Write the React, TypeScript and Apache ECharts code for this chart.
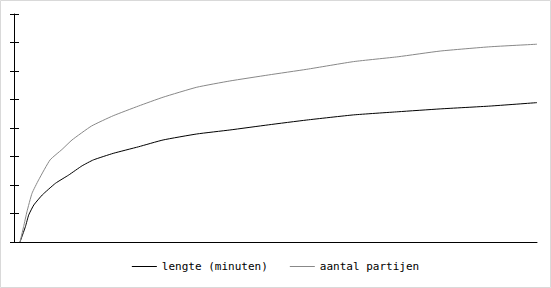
import React, { useEffect, useRef } from "react";
import * as echarts from "echarts";

const seriesNames = ["lengte (minuten)", "aantal partijen"];
const lengteX = [1, 1.9, 2.45, 3.3, 4.7, 6.9, 9.1, 11.3, 13.2, 16.5, 20.7, 24.8, 30.4, 35.9, 42.3, 48.7, 56.5, 63.9, 70.9, 79.2, 87];
const lengteY = [0, 0.54, 0.95, 1.3, 1.65, 2.06, 2.35, 2.67, 2.88, 3.11, 3.34, 3.58, 3.79, 3.93, 4.11, 4.28, 4.46, 4.57, 4.67, 4.77, 4.89];
const partijenX = [1, 1.6, 2.15, 3, 4.1, 6, 8, 9.65, 12.9, 16.5, 20.7, 24.8, 30.4, 35.9, 42.3, 48.7, 56.5, 63.9, 70.9, 79.2, 87];
const partijenY = [0, 0.54, 1.06, 1.71, 2.18, 2.88, 3.25, 3.58, 4.07, 4.43, 4.77, 5.08, 5.43, 5.65, 5.86, 6.06, 6.33, 6.5, 6.7, 6.85, 6.94];

export default function App() {
  const ref = useRef<HTMLDivElement>(null);
  useEffect(() => {
    if (!ref.current) return;
    const chart = echarts.init(ref.current, undefined, { renderer: "svg" });
    const zip = (xs: number[], ys: number[]) => xs.map((x, i) => [x, ys[i]]);
    chart.setOption({
      animation: false,
      backgroundColor: "#ffffff",
      grid: { left: 14, right: 14, top: 14, bottom: 46 },
      graphic: [
        {
          type: "rect",
          shape: { x: 0.5, y: 0.5, width: 550, height: 287 },
          style: { fill: "none", stroke: "#d9d9d9", lineWidth: 1 },
          silent: true,
        },
      ],
      legend: {
        bottom: 11,
        left: "center",
        icon: "rect",
        itemWidth: 25,
        itemHeight: 1,
        itemGap: 22,
        textStyle: { fontFamily: "DejaVu Sans Mono", fontSize: 11, color: "#000" },
        data: seriesNames,
      },
      xAxis: {
        type: "value",
        min: 0,
        max: 87,
        axisLine: { show: true, lineStyle: { color: "#000", width: 1 } },
        axisTick: { show: false },
        axisLabel: { show: false },
        splitLine: { show: false },
      },
      yAxis: [
        {
          type: "value",
          position: "left",
          min: 0,
          max: 8,
          interval: 1,
          axisLine: { show: true, lineStyle: { color: "#000", width: 1 } },
          axisTick: { show: true, inside: false, length: 4, lineStyle: { color: "#000" } },
          axisLabel: { show: false },
          splitLine: { show: false },
        },
        {
          type: "value",
          position: "left",
          offset: 0,
          min: 0,
          max: 8,
          interval: 1,
          axisLine: { show: false },
          axisTick: { show: true, inside: true, length: 5, lineStyle: { color: "#000" } },
          axisLabel: { show: false },
          splitLine: { show: false },
        },
      ],
      series: [
        {
          name: seriesNames[0],
          type: "line",
          smooth: 0.15,
          symbol: "none",
          data: zip(lengteX, lengteY),
          lineStyle: { color: "#000", width: 1 },
          itemStyle: { color: "#000" },
        },
        {
          name: seriesNames[1],
          type: "line",
          smooth: 0.15,
          symbol: "none",
          data: zip(partijenX, partijenY),
          lineStyle: { color: "#888", width: 1 },
          itemStyle: { color: "#888" },
        },
      ],
    });
    return () => chart.dispose();
  }, []);
  return (
    <div
      ref={ref}
      style={{ position: "fixed", left: 0, top: 0, width: 551, height: 288 }}
    />
  );
}
